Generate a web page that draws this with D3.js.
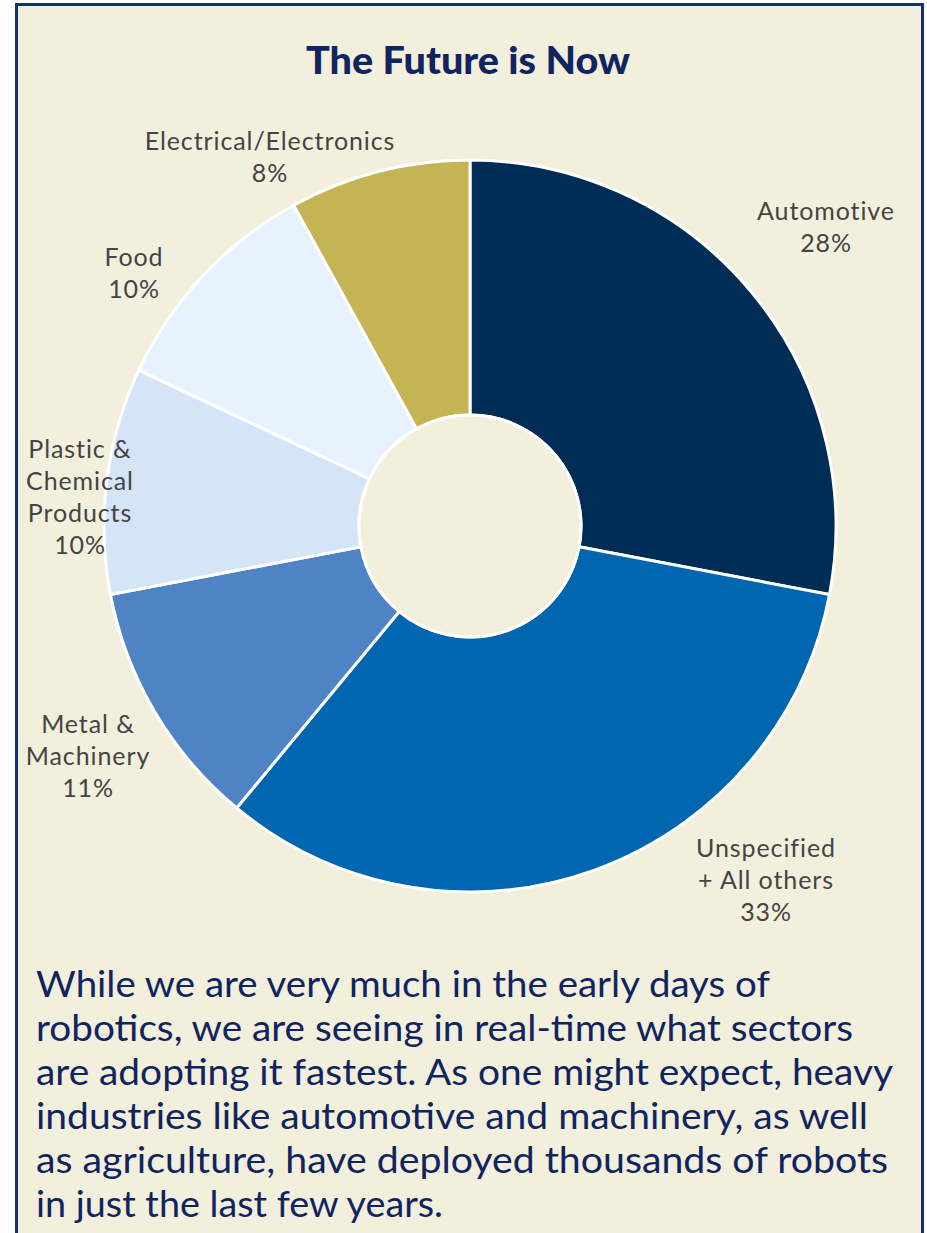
<!DOCTYPE html>
<html>
<head>
<meta charset="utf-8">
<script src="https://cdn.jsdelivr.net/npm/d3@7"></script>
<style>
  html, body { margin: 0; padding: 0; background: #ffffff; }
  svg { display: block; }
</style>
</head>
<body>
<script>
// ---- data ----
const categories = ["Automotive", "Unspecified\n+ All others", "Metal &\nMachinery", "Plastic &\nChemical\nProducts", "Food", "Electrical/Electronics"];
const shares = [28, 33, 11, 10, 10, 8];
const colors = ["#002D56", "#0066B0", "#4F84C4", "#D6E4F8", "#E6F3FE", "#C4B454"];
const title = "The Future is Now";
const paragraph = [
  "While we are very much in the early days of",
  "robotics, we are seeing in real-time what sectors",
  "are adopting it fastest. As one might expect, heavy",
  "industries like automotive and machinery, as well",
  "as agriculture, have deployed thousands of robots",
  "in just the last few years."
];

// ---- layout ----
const W = 927, H = 1233;
const cx = 470, cy = 526, rOuter = 366, rInner = 111;
const labelLayout = [
  { x: 826, y: 220 },
  { x: 766, y: 857 },
  { x: 88,  y: 733 },
  { x: 80,  y: 458 },
  { x: 134, y: 266 },
  { x: 270, y: 150 }
];
const paraWidths = [734, 817, 857, 832, 852, 407];

const svg = d3.select("body").append("svg").attr("width", W).attr("height", H);

svg.append("rect").attr("x", 0).attr("y", 0).attr("width", W).attr("height", H).attr("fill", "#ffffff");
svg.append("rect")
  .attr("x", 16.5).attr("y", 4.5).attr("width", 906).attr("height", H + 20)
  .attr("fill", "#F2EFDD").attr("stroke", "#14306E").attr("stroke-width", 3);

svg.append("text")
  .attr("x", 468).attr("y", 74)
  .attr("text-anchor", "middle")
  .attr("font-family", "Lato")
  .attr("font-weight", 900)
  .attr("font-size", 38)
  .attr("fill", "#0F2460")
  .attr("textLength", 324).attr("lengthAdjust", "spacingAndGlyphs")
  .text(title);

const pie = d3.pie().sort(null).value(d => d)(shares);
const arc = d3.arc().innerRadius(rInner).outerRadius(rOuter);

const g = svg.append("g").attr("transform", `translate(${cx},${cy})`);
g.selectAll("path.slice")
  .data(pie)
  .join("path")
  .attr("class", "slice")
  .attr("d", arc)
  .attr("fill", (d, i) => colors[i])
  .attr("stroke", "#ffffff")
  .attr("stroke-width", 3)
  .attr("stroke-linejoin", "miter");

// inner circle outline
g.append("circle").attr("r", rInner).attr("fill", "#F2EFDD").attr("stroke", "#ffffff").attr("stroke-width", 3);

// labels
categories.forEach((c, i) => {
  const lines = c.split("\n").concat([shares[i] + "%"]);
  const t = svg.append("text")
    .attr("text-anchor", "middle")
    .attr("font-family", "Lato")
    .attr("font-size", 25)
    .attr("letter-spacing", 0.9)
    .attr("fill", "#444444");
  lines.forEach((ln, k) => {
    t.append("tspan").attr("x", labelLayout[i].x).attr("y", labelLayout[i].y + k * 32).text(ln);
  });
});

// paragraph
paragraph.forEach((ln, k) => {
  svg.append("text")
    .attr("x", 36).attr("y", 997 + k * 44)
    .attr("font-family", "Lato")
    .attr("font-size", 37)
    .attr("fill", "#0F2460")
    .attr("textLength", paraWidths[k]).attr("lengthAdjust", "spacingAndGlyphs")
    .text(ln);
});
</script>
</body>
</html>
